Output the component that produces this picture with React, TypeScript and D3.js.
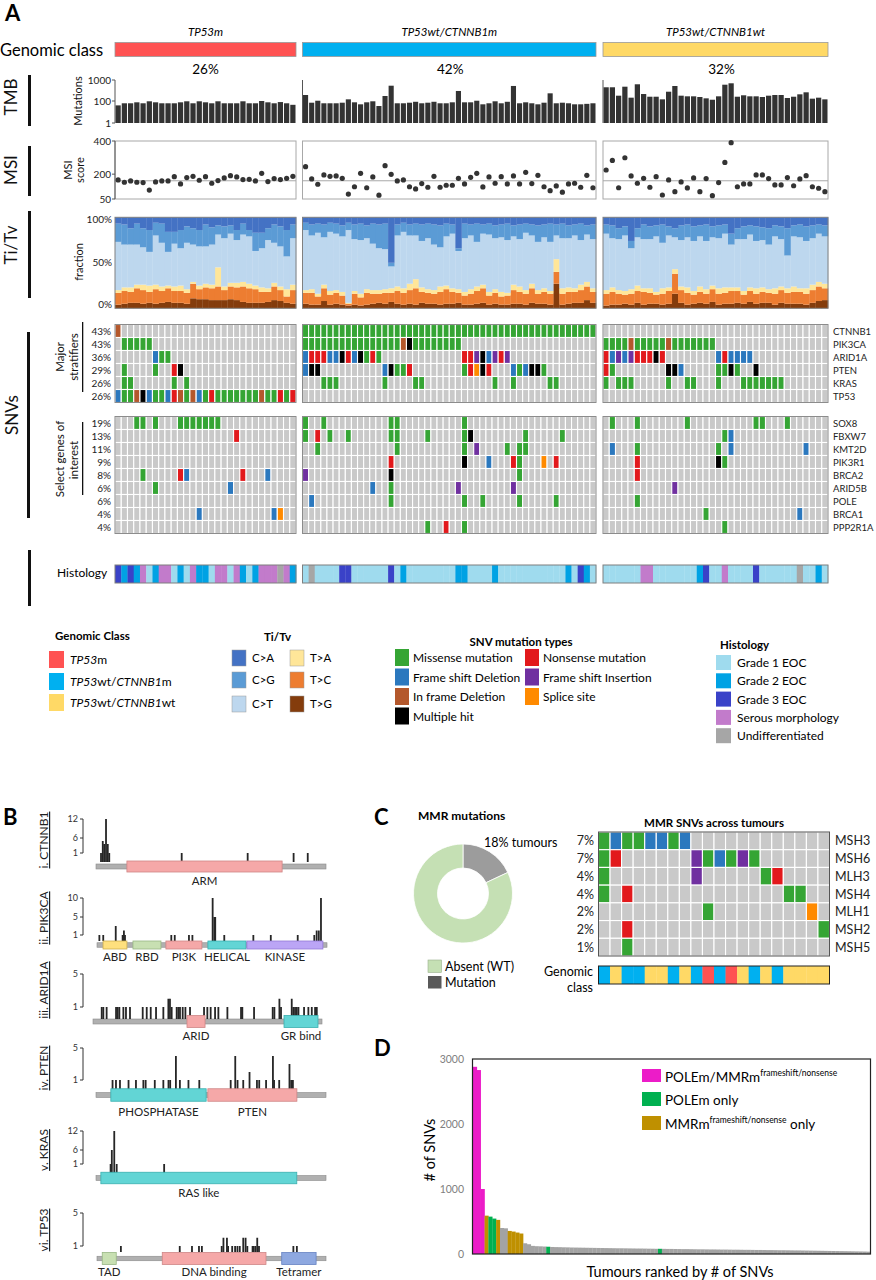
import { useEffect } from "react";
import * as d3 from "d3";

const FONT = "Lato, 'Noto Sans', 'DejaVu Sans', sans-serif";

// ---------------- Panel A data ----------------
const classLabelParts: [string, boolean][][] = [
  [["TP53", true], ["m", false]],
  [["TP53", true], ["wt/", false], ["CTNNB1", true], ["m", false]],
  [["TP53", true], ["wt/", false], ["CTNNB1", true], ["wt", false]],
];
const classShares = ["26%", "42%", "32%"];
const classColors = ["#FF5252", "#00B0F0", "#FFD966"];

// tumour mutational burden (mutations per tumour)
const tmbTP53m = [40, 62, 62, 76, 62, 94, 76, 62, 62, 62, 76, 94, 62, 94, 76, 62, 94, 62, 62, 62, 94, 62, 62, 100, 76, 62, 80, 62, 45];
const tmbCTNNB1m = [193, 70, 103, 62, 62, 62, 70, 120, 76, 50, 76, 94, 35, 173, 535, 62, 62, 70, 85, 62, 70, 85, 62, 62, 76, 300, 76, 76, 103, 50, 62, 94, 62, 85, 520, 62, 76, 62, 50, 70, 232, 62, 70, 62, 50, 50, 55, 62];
const tmbCTNNB1wt = [450, 450, 179, 480, 144, 625, 215, 160, 160, 120, 277, 518, 179, 167, 167, 155, 134, 115, 167, 597, 697, 160, 187, 167, 167, 155, 179, 193, 193, 139, 160, 208, 259, 129, 144, 120];

// MSI score
const msiTP53m = [165, 151, 159, 151, 149, 104, 153, 159, 159, 185, 141, 179, 187, 163, 185, 145, 161, 177, 191, 183, 167, 169, 159, 205, 155, 173, 167, 175, 187];
const msiCTNNB1m = [245, 171, 139, 195, 187, 189, 175, 80, 124, 205, 118, 183, 73, 251, 199, 159, 165, 124, 111, 143, 121, 187, 121, 133, 133, 175, 141, 181, 205, 123, 183, 145, 185, 141, 189, 141, 211, 143, 193, 124, 100, 129, 91, 141, 145, 121, 193, 118];
const msiCTNNB1wt = [225, 283, 118, 299, 189, 145, 175, 121, 185, 74, 165, 94, 153, 117, 177, 94, 173, 70, 149, 271, 390, 124, 141, 141, 195, 195, 173, 135, 135, 179, 130, 171, 191, 124, 115, 94];
const msiCutoff = 160;

// Ti/Tv percentages per tumour: [C>A, C>G, T>A, T>C, T>G]; C>T is the rest
const titvTP53m = [
  [7, 20, 3, 13, 4], [8, 22, 4, 14, 5], [12, 18, 5, 12, 6], [7, 23, 4, 16, 6], [12, 21, 6, 15, 5],
  [14, 24, 7, 12, 6], [6, 14, 5, 16, 5], [7, 21, 5, 13, 6], [16, 22, 3, 15, 7], [16, 13, 5, 13, 6],
  [14, 20, 6, 13, 6], [10, 18, 4, 12, 5], [12, 18, 2, 16, 11], [14, 18, 4, 11, 10], [8, 24, 4, 13, 10],
  [11, 19, 4, 13, 9], [9, 10, 21, 15, 9], [10, 13, 4, 11, 9], [9, 9, 4, 14, 10], [14, 11, 5, 14, 9],
  [7, 12, 5, 17, 7], [14, 7, 5, 16, 6], [17, 20, 4, 15, 6], [17, 17, 5, 12, 6], [12, 13, 4, 11, 7],
  [8, 20, 4, 15, 9], [10, 22, 4, 12, 8], [14, 29, 8, 7, 6], [8, 15, 6, 15, 5],
];
const titvCTNNB1m = [
  [6, 8, 3, 12, 5], [8, 12, 4, 13, 4], [7, 10, 3, 9, 4], [8, 14, 4, 14, 8], [6, 10, 4, 11, 4],
  [7, 11, 3, 12, 5], [9, 12, 4, 10, 4], [6, 8, 1, 2, 3], [8, 16, 3, 12, 4], [7, 18, 4, 9, 3],
  [9, 14, 4, 13, 4], [7, 22, 4, 11, 5], [8, 26, 4, 10, 6], [7, 28, 4, 12, 5], [50, 4, 5, 10, 7],
  [8, 12, 5, 14, 5], [6, 10, 5, 13, 4], [8, 12, 7, 15, 5], [7, 13, 10, 18, 4], [8, 18, 5, 12, 6],
  [7, 16, 4, 12, 5], [8, 22, 4, 11, 5], [9, 24, 6, 14, 4], [7, 14, 4, 16, 5], [8, 10, 4, 13, 5],
  [34, 3, 4, 11, 6], [7, 16, 4, 10, 4], [8, 12, 5, 12, 4], [7, 20, 5, 14, 5], [8, 10, 4, 16, 6],
  [7, 12, 4, 10, 4], [9, 14, 4, 12, 5], [8, 14, 5, 9, 4], [7, 18, 3, 10, 4], [9, 12, 6, 15, 5],
  [8, 16, 6, 13, 5], [7, 10, 4, 12, 4], [8, 12, 5, 16, 6], [9, 18, 4, 11, 5], [8, 14, 4, 13, 5],
  [7, 20, 3, 12, 4], [8, 12, 14, 13, 27], [7, 16, 6, 12, 4], [9, 14, 5, 13, 5], [8, 12, 4, 12, 6],
  [7, 18, 6, 14, 6], [9, 10, 5, 15, 9], [8, 16, 4, 12, 6],
];
const titvCTNNB1wt = [
  [8, 10, 4, 13, 3], [9, 14, 5, 14, 4], [12, 12, 4, 12, 4], [10, 10, 4, 10, 5], [26, 8, 5, 12, 4],
  [12, 10, 6, 13, 6], [8, 16, 4, 14, 4], [10, 14, 5, 12, 5], [9, 12, 3, 10, 5], [8, 20, 6, 12, 4],
  [10, 10, 4, 14, 5], [12, 10, 5, 22, 16], [9, 16, 4, 14, 6], [8, 14, 6, 13, 4], [10, 16, 4, 10, 5],
  [9, 12, 6, 12, 6], [8, 18, 5, 11, 5], [10, 12, 4, 14, 7], [9, 14, 6, 12, 4], [8, 10, 6, 12, 5],
  [18, 12, 4, 14, 5], [12, 12, 4, 13, 6], [10, 14, 4, 10, 5], [9, 10, 4, 12, 7], [10, 16, 6, 11, 5],
  [11, 14, 5, 12, 6], [12, 18, 4, 11, 6], [9, 12, 6, 12, 4], [10, 14, 4, 14, 6], [12, 30, 5, 12, 5],
  [9, 12, 6, 13, 5], [8, 14, 4, 13, 5], [10, 16, 6, 12, 4], [9, 14, 6, 14, 6], [8, 10, 5, 16, 8],
  [9, 12, 5, 13, 9],
];
const titvKeys = ["C>A", "C>G", "C>T", "T>A", "T>C", "T>G"];
const titvColors: Record<string, string> = {
  "C>A": "#4472C4", "C>G": "#5B9BD5", "C>T": "#BDD7EE",
  "T>A": "#FFE699", "T>C": "#ED7D31", "T>G": "#843C0C",
};

// SNV oncoprint
const majorGenes = ["CTNNB1", "PIK3CA", "ARID1A", "PTEN", "KRAS", "TP53"];
const majorPct = ["43%", "43%", "36%", "29%", "26%", "26%"];
const selectGenes = ["SOX8", "FBXW7", "KMT2D", "PIK3R1", "BRCA2", "ARID5B", "POLE", "BRCA1", "PPP2R1A"];
const selectPct = ["19%", "13%", "11%", "9%", "8%", "6%", "6%", "4%", "4%"];
// "index[-index]code": M missense, F frameshift del, I in-frame del, X multiple, N nonsense, S frameshift ins, P splice
const snvTP53m = [
  "0I", "1-5M", "6F 7M 8M", "1M 6M 9N 10X", "1M 2M 9M 11M",
  "0F 1M 2M 3I 4X 5F 6M 7M 8F 9N 10I 11M 12I 13F 14M 15N 16-22M 23I 24M 25M 26N 27M 28N",
  "3M 4M 6M 10-16M", "19N", "", "", "4M 10N 11F 20N 24F", "6M 18F", "", "13F 25F 26P", "",
];
const snvCTNNB1m = [
  "0-47M", "0-15M 16I 17X 18-25M",
  "0F 1N 2N 3N 4F 5F 6X 7N 8F 9X 10M 11N 12M 26N 27N 28S 29X 30F 31S 32N 33S",
  "0F 1X 2X 13F 14X 15M 16M 17N 26M 27N 28P 29X 30N 34F 35M 36F 37X 38X 39M",
  "3-5M 13M 18M 19M 31M 34M 40M 41M", "",
  "0M 3M 14M 15M 26M", "0M 2N 4M 7M 14M 15M 20M 26M 27X 36M 42M",
  "2M 15M 26M 28S 33M 35M 36M", "14N 26X 30F 34N 35M 39P 41N", "0S 14X 35M",
  "11F 14M 25S 34S", "1F 14M 26M 29M 35M 41M", "", "20M 23N 26M",
];
const snvCTNNB1wt = [
  "", "0-3M 4I 5-9M 10I 11-17M",
  "0N 1F 2S 3F 4S 5N 6N 7N 8X 9N 18F 19N 20F 21F 22F 23F",
  "0N 1M 10X 11X 12F 18M 19M 20X 21M 24X",
  "0M 2-4M 10M 13M 14M 18M 22-28M", "",
  "1M 5M 13M 24M 25M 29M", "19M 20F", "1F 5M 18M 20F 32F", "5N 18X 19M", "5N",
  "11S", "5M", "16M 31F", "19M",
];
const snvTypes = [
  ["M", "Missense mutation"], ["F", "Frame shift Deletion"], ["I", "In frame Deletion"], ["X", "Multiple hit"],
  ["N", "Nonsense mutation"], ["S", "Frame shift Insertion"], ["P", "Splice site"],
];
const snvColors: Record<string, string> = {
  M: "#35A534", F: "#2B78BE", I: "#B4582C", X: "#000000", N: "#E2191C", S: "#7030A0", P: "#FF8A00",
};

// Histology: A grade 1, B grade 2, C grade 3, S serous, U undifferentiated (default A)
const histTP53m = "0C 1B 2C 3B 4S 5A 6B 7-8S 9A 10B 11A 12S 13-14B 15A 16-17S 18A 19S 20B 21A 22B 23-25S 26U 27S 28B";
const histCTNNB1m = "1U 6-7C 14C 16B 25-26B 31B 43B 45C 46B";
const histCTNNB1wt = "6-7S 15B 16C 19S 24C 31U 34B";
const histTypes = [["A", "Grade 1 EOC"], ["B", "Grade 2 EOC"], ["C", "Grade 3 EOC"], ["S", "Serous morphology"], ["U", "Undifferentiated"]];
const histColors: Record<string, string> = { A: "#9FDBEE", B: "#00A2E4", C: "#3A42C8", S: "#C27BCB", U: "#A6A6A6" };

// ---------------- Panel B data ----------------
const geneNames = ["i. CTNNB1", "ii. PIK3CA", "iii. ARID1A", "iv. PTEN", "v. KRAS", "vi. TP53"];
const proteinLengths = [781, 1068, 2285, 403, 189, 393];
const geneTicks = [[1, 6, 12], [1, 5, 10], [1, 5], [1, 5], [1, 6, 12], [1, 5]];
const ctnnb1Domains: [string, number, number][] = [["ARM", 105, 632]];
const pik3caDomains: [string, number, number][] = [["ABD", 28, 139], ["RBD", 167, 297], ["PI3K", 320, 487], ["HELICAL", 515, 692], ["KINASE", 696, 1049]];
const arid1aDomains: [string, number, number][] = [["ARID", 938, 1118], ["GR bind", 1906, 2245]];
const ptenDomains: [string, number, number][] = [["PHOSPHATASE", 26, 193], ["PTEN", 196, 352]];
const krasDomains: [string, number, number][] = [["RAS like", 4, 165]];
const tp53Domains: [string, number, number][] = [["TAD", 9, 33], ["DNA binding", 112, 290], ["Tetramer", 317, 376]];
const ctnnb1Muts = [[17, 1], [23, 5], [28, 4], [34, 12], [40, 4], [45, 1], [291, 1], [515, 1], [671, 1], [719, 1]];
const pik3caMuts = [[11, 1], [29, 1], [87, 3], [119, 1], [125, 2], [130, 1], [345, 1], [361, 1], [427, 1], [443, 1], [537, 10], [545, 5], [549, 5], [591, 1], [726, 1], [807, 1], [932, 1], [1009, 1], [1020, 2], [1030, 2], [1040, 10]];
const arid1aMuts = [[87, 1], [103, 1], [136, 1], [230, 1], [246, 1], [263, 1], [303, 1], [329, 1], [369, 1], [496, 1], [536, 1], [576, 1], [629, 1], [702, 1], [752, 2], [768, 2], [785, 1], [835, 1], [852, 1], [868, 1], [895, 1], [922, 1], [968, 1], [1108, 1], [1141, 1], [1174, 1], [1218, 1], [1251, 1], [1341, 1], [1477, 1], [1490, 1], [1607, 1], [1793, 1], [1810, 1], [1860, 2], [1876, 1], [1983, 2], [1999, 1], [2016, 1], [2033, 1], [2050, 1], [2106, 1], [2149, 1], [2183, 1], [2216, 1], [2233, 1]];
const ptenMuts = [[29, 1], [35, 1], [42, 1], [57, 1], [70, 1], [83, 1], [87, 1], [103, 1], [118, 1], [127, 1], [130, 1], [140, 4], [147, 1], [162, 1], [181, 1], [236, 1], [244, 4], [248, 1], [258, 1], [269, 2], [282, 1], [286, 1], [298, 1], [310, 4], [312, 1], [321, 1], [339, 3], [342, 1], [345, 1]];
const krasMuts = [[12, 1], [13, 6], [15, 12], [17, 1], [56, 1]];
const tp53Muts = [[41, 1], [142, 1], [163, 1], [175, 1], [180, 1], [214, 1], [217, 2], [223, 2], [225, 1], [232, 1], [237, 1], [241, 1], [245, 1], [251, 2], [255, 2], [258, 1], [267, 1], [269, 1], [272, 1], [275, 2], [278, 1], [337, 1], [343, 1]];
const geneDomains = [ctnnb1Domains, pik3caDomains, arid1aDomains, ptenDomains, krasDomains, tp53Domains];
const geneMuts = [ctnnb1Muts, pik3caMuts, arid1aMuts, ptenMuts, krasMuts, tp53Muts];
const domainColors: Record<string, [string, string]> = {
  ARM: ["#F5A8A8", "#CF8686"], ABD: ["#FFE07E", "#CDAE52"], RBD: ["#C8E0B2", "#98B784"],
  PI3K: ["#F5A8A8", "#CF8686"], HELICAL: ["#62D5D5", "#3AAFAF"], KINASE: ["#BBA5F5", "#9379D6"],
  ARID: ["#F5A8A8", "#CF8686"], "GR bind": ["#62D5D5", "#3AAFAF"], PHOSPHATASE: ["#62D5D5", "#3AAFAF"],
  PTEN: ["#F5A8A8", "#CF8686"], "RAS like": ["#62D5D5", "#3AAFAF"], TAD: ["#C8E0B2", "#98B784"],
  "DNA binding": ["#F5A8A8", "#CF8686"], Tetramer: ["#8EA8E0", "#6682C2"],
};

// ---------------- Panel C data ----------------
const mmrShare = [{ label: "Mutation", value: 18 }, { label: "Absent (WT)", value: 82 }];
const mmrGenes = ["MSH3", "MSH6", "MLH3", "MSH4", "MLH1", "MSH2", "MSH5"];
const mmrPct = ["7%", "7%", "4%", "4%", "2%", "2%", "1%"];
const mmrSnv = ["0M 1F 2M 3M 4F 5F 6M 7F", "0M 1N 8S 9M 10F 11M 12S 13M", "0M 8S 14M 15N", "0M 2N 16M 17M", "9M 18P", "2N 19M", "2M"];
const mmrClass = "BYBBYYBYBRBRYBYBYYYY";
const mmrClassColors: Record<string, string> = { R: "#FF5252", B: "#00B0F0", Y: "#FFD966" };

// ---------------- Panel D data ----------------
const snvCounts = [
  2880, 2830, 1000, 590, 575, 545, 525, 400, 395, 355,
  345, 330, 315, 165, 150, 125, 120, 118, 115, 112,
  108, 106, 105, 103, 102, 100, 99, 98, 97, 96,
  95, 94, 93, 92, 91, 90, 89, 88, 88, 87,
  86, 85, 84, 84, 83, 82, 81, 80, 80, 79,
  78, 78, 77, 76, 75, 75, 74, 73, 72, 72,
  71, 70, 70, 69, 68, 68, 67, 66, 66, 65,
  64, 64, 63, 62, 62, 61, 60, 60, 59, 58,
  58, 57, 56, 55, 55, 54, 53, 52, 51, 50,
  49, 48, 47, 46, 45, 44, 43, 42, 41, 40,
  39, 38, 36,
];
// P: POLEm/MMRm, E: POLEm only, G: MMRm only
const snvCountGroups = "0-2P 3G 4-5E 6G 9-12G 19E 48E";
const snvGroupColors: Record<string, string> = { P: "#EC1CC8", E: "#00B050", G: "#BF9000", ".": "#A3A3A3" };
const snvTicks = [0, 1000, 2000, 3000];

// ---------------- helpers ----------------
function expand(spec: string, n: number, fill = "."): string[] {
  const out = new Array(n).fill(fill);
  spec.split(" ").filter(Boolean).forEach((tok) => {
    const code = tok.slice(-1);
    const [a, b] = tok.slice(0, -1).split("-").map(Number);
    for (let i = a; i <= (isNaN(b) || b === undefined ? a : b); i++) if (i < n) out[i] = code;
  });
  return out;
}

function Rot({ x, y, size, children, weight = 400 }: any) {
  return (
    <text transform={`translate(${x},${y}) rotate(-90)`} textAnchor="middle" fontSize={size} fontWeight={weight} fill="#111">
      {children}
    </text>
  );
}

const spans: [number, number][] = [[115, 296], [302.5, 596], [603, 828]];
const cellGray = "#C9C9C9";

function PanelA() {
  const tmbs = [tmbTP53m, tmbCTNNB1m, tmbCTNNB1wt];
  const msis = [msiTP53m, msiCTNNB1m, msiCTNNB1wt];
  const titvs = [titvTP53m, titvCTNNB1m, titvCTNNB1wt];
  const snvs = [snvTP53m, snvCTNNB1m, snvCTNNB1wt];
  const hists = [histTP53m, histCTNNB1m, histCTNNB1wt];
  const bands = tmbs.map((v, gi) => d3.scaleBand<number>().domain(d3.range(v.length)).range(spans[gi]));
  const tmbY = d3.scaleLinear().domain([0, 2, 3]).range([123, 101, 80]);
  const msiY = d3.scaleLinear().domain([50, 400]).range([199, 141]);
  const titvY = d3.scaleLinear().domain([0, 100]).range([308.3, 217.3]);
  const stackOrder = ["T>G", "T>C", "T>A", "C>T", "C>G", "C>A"];
  const stack = d3.stack<any>().keys(stackOrder);
  const genes = [...majorGenes, ...selectGenes];
  const pcts = [...majorPct, ...selectPct];
  const rowH = 13;
  const rowY = (r: number) => (r < 6 ? 324.5 + r * rowH : 416.5 + (r - 6) * rowH);

  return (
    <g>
      <text x={5} y={21} fontSize={22} fontWeight={700}>A</text>
      <text x={0} y={56} fontSize={16.5}>Genomic class</text>
      {spans.map(([a, b], gi) => (
        <g key={"gc" + gi}>
          <text x={(a + b) / 2} y={36} fontSize={11.5} textAnchor="middle" fontStyle="italic">
            {classLabelParts[gi].map(([t], k) => <tspan key={k}>{t}</tspan>)}
          </text>
          <rect x={a} y={42.5} width={b - a} height={14} fill={classColors[gi]} stroke="#9a9a9a" strokeWidth={0.8} />
          <text x={(a + b) / 2 + [0, 1, 6][gi]} y={74} fontSize={13.5} textAnchor="middle">{classShares[gi]}</text>
        </g>
      ))}

      {/* side labels */}
      <Rot x={17} y={97} size={17}>TMB</Rot>
      <rect x={28} y={75} width={3} height={51} fill="#111" />
      <Rot x={17} y={170} size={17}>MSI</Rot>
      <rect x={28} y={146} width={3} height={50} fill="#111" />
      <Rot x={17} y={245} size={17}>Ti/Tv</Rot>
      <rect x={28} y={211} width={3} height={87} fill="#111" />
      <Rot x={18} y={415} size={17}>SNVs</Rot>
      <rect x={27} y={332} width={3} height={186} fill="#111" />
      <rect x={28} y={550} width={3} height={56} fill="#111" />

      <Rot x={82} y={101} size={11}>Mutations</Rot>
      <Rot x={72} y={170} size={11}>MSI</Rot>
      <Rot x={84} y={170} size={11}>score</Rot>
      <Rot x={83} y={262} size={11}>fraction</Rot>
      <Rot x={64} y={357} size={11.5}>Major</Rot>
      <Rot x={78} y={357} size={11.5}>stratifiers</Rot>
      <rect x={82} y={322} width={1.3} height={70} fill="#111" />
      <Rot x={64} y={459} size={11.5}>Select genes of</Rot>
      <Rot x={78} y={460} size={11.5}>interest</Rot>
      <rect x={82} y={422} width={1.3} height={73} fill="#111" />

      {/* TMB */}
      {tmbs.map((vals, gi) => (
        <g key={"tmb" + gi}>
          {vals.map((v, i) => (
            <rect key={i} x={bands[gi](i)! + 0.5} width={bands[gi].bandwidth() - 1} y={tmbY(Math.log10(v))}
              height={123 - tmbY(Math.log10(v))} fill="#333333" />
          ))}
          <line x1={spans[gi][0]} x2={spans[gi][0]} y1={80} y2={123} stroke="#555" strokeWidth={1} />
        </g>
      ))}
      {[1, 100, 1000].map((t) => (
        <g key={"tt" + t}>
          <line x1={112} x2={115} y1={tmbY(Math.log10(t))} y2={tmbY(Math.log10(t))} stroke="#555" />
          <text x={111} y={tmbY(Math.log10(t)) + 3.5} fontSize={10} textAnchor="end" fill="#222">{t}</text>
        </g>
      ))}

      {/* MSI */}
      {msis.map((vals, gi) => {
        const bw = bands[gi].bandwidth();
        return (
          <g key={"msi" + gi}>
            <rect x={spans[gi][0]} y={141} width={spans[gi][1] - spans[gi][0]} height={58} fill="none" stroke="#A8A8A8" />
            <line x1={spans[gi][0]} x2={spans[gi][1]} y1={msiY(msiCutoff)} y2={msiY(msiCutoff)} stroke="#A8A8A8" />
            {vals.map((v, i) => (
              <circle key={i} cx={bands[gi](i)! + bw / 2} cy={msiY(v)} r={2.6} fill="#333" />
            ))}
          </g>
        );
      })}
      <line x1={115} x2={115} y1={141} y2={199} stroke="#555" />
      {[400, 200, 50].map((t) => (
        <g key={"mt" + t}>
          <line x1={112} x2={115} y1={msiY(t)} y2={msiY(t)} stroke="#555" />
          <text x={111} y={msiY(t) + 3.5} fontSize={10} textAnchor="end" fill="#222">{t}</text>
        </g>
      ))}

      {/* Ti/Tv */}
      {titvs.map((rows, gi) => {
        const objs = rows.map(([ca, cg, ta, tc, tg]) => ({
          "C>A": ca, "C>G": cg, "T>A": ta, "T>C": tc, "T>G": tg, "C>T": 100 - ca - cg - ta - tc - tg,
        }));
        const series = stack(objs);
        const band = bands[gi];
        return (
          <g key={"tv" + gi}>
            {series.map((s) =>
              s.map((d, i) => (
                <rect key={s.key + i} x={band(i)!} width={band.bandwidth() + 0.3} y={titvY(d[1])}
                  height={titvY(d[0]) - titvY(d[1])} fill={titvColors[s.key]} />
              ))
            )}
            <rect x={spans[gi][0]} y={217.3} width={spans[gi][1] - spans[gi][0]} height={91} fill="none" stroke="#808080" />
          </g>
        );
      })}
      {[100, 50, 0].map((t) => (
        <text key={"vt" + t} x={112} y={titvY(t) + (t === 100 ? 6 : t === 0 ? 0 : 3.5)} fontSize={10} textAnchor="end" fill="#222">{t}%</text>
      ))}

      {/* SNV oncoprint */}
      {snvs.map((rows, gi) => {
        const band = bands[gi];
        const n = band.domain().length;
        const [a, b] = spans[gi];
        return (
          <g key={"snv" + gi}>
            {genes.map((g, r) =>
              expand(rows[r], n).map((c, i) => (
                <rect key={g + i} x={band(i)!} y={rowY(r)} width={band.bandwidth()} height={rowH}
                  fill={c === "." ? cellGray : snvColors[c]} stroke="#fff" strokeWidth={1.1} />
              ))
            )}
            <rect x={a} y={324.5} width={b - a} height={6 * rowH} fill="none" stroke="#8C8C8C" />
            <rect x={a} y={416.5} width={b - a} height={9 * rowH} fill="none" stroke="#8C8C8C" />
          </g>
        );
      })}
      {genes.map((g, r) => (
        <g key={"lab" + g}>
          <text x={111} y={rowY(r) + rowH / 2 + 3.5} fontSize={10} textAnchor="end" fill="#222">{pcts[r]}</text>
          <text x={833} y={rowY(r) + rowH / 2 + 3.5} fontSize={9.5} fill="#222">{g}</text>
        </g>
      ))}

      {/* Histology */}
      <text x={57} y={577} fontSize={12}>Histology</text>
      {hists.map((spec, gi) => {
        const band = bands[gi];
        const cells = expand(spec, band.domain().length, "A");
        return (
          <g key={"h" + gi}>
            {cells.map((c, i) => (
              <rect key={i} x={band(i)!} y={565} width={band.bandwidth() + 0.3} height={18} fill={histColors[c]} />
            ))}
            <rect x={spans[gi][0]} y={565} width={spans[gi][1] - spans[gi][0]} height={18} fill="none" stroke="#7F7F7F" />
          </g>
        );
      })}

      {/* Legends */}
      <text x={55} y={640} fontSize={11.5} fontWeight={700}>Genomic Class</text>
      {classLabelParts.map((parts, k) => (
        <g key={"lg" + k}>
          <rect x={49} y={[651, 673, 694][k]} width={15} height={17} fill={classColors[k]} />
          <text x={70} y={[651, 673, 694][k] + 12.5} fontSize={12}>
            {parts.map(([t, it], j) => <tspan key={j} fontStyle={it ? "italic" : "normal"}>{t}</tspan>)}
          </text>
        </g>
      ))}

      <text x={264} y={641} fontSize={11.5} fontWeight={700}>Ti/Tv</text>
      {titvKeys.map((k, i) => {
        const col = i < 3 ? 0 : 1;
        const row = i % 3;
        const y = [650, 672, 696][row];
        const x = col === 0 ? 232 : 290;
        return (
          <g key={"lt" + k}>
            <rect x={x} y={y} width={14} height={16} fill={titvColors[k]} stroke="#9a9a9a" strokeWidth={0.5} />
            <text x={x + 20} y={y + 12} fontSize={11.5}>{k}</text>
          </g>
        );
      })}

      <text x={521} y={646} fontSize={11.5} fontWeight={700} textAnchor="middle">SNV mutation types</text>
      {snvTypes.map(([c, label], i) => {
        const col = i < 4 ? 0 : 1;
        const row = col === 0 ? i : i - 4;
        const y = 649 + row * 19.5;
        const x = col === 0 ? 395 : 525;
        return (
          <g key={"ls" + c}>
            <rect x={x} y={y} width={14} height={17} fill={snvColors[c]} />
            <text x={x + 18} y={y + 13} fontSize={12}>{label}</text>
          </g>
        );
      })}

      <text x={720} y={649} fontSize={11.5} fontWeight={700}>Histology</text>
      {histTypes.map(([c, label], i) => (
        <g key={"lh" + c}>
          <rect x={716} y={655 + i * 18.3} width={15} height={15} fill={histColors[c]} />
          <text x={737} y={655 + i * 18.3 + 12} fontSize={12}>{label}</text>
        </g>
      ))}
    </g>
  );
}

// layout for panel B tracks
const trackLayout = [
  { labelY: 840, barY: 866.5, barH: 5, domH: 11, base: 862, tickY: [853, 838, 819], textY: 885, x0: 96, x1: 326 },
  { labelY: 918, barY: 945, barH: 4.5, domH: 8, base: 941, tickY: [935, 917, 898], textY: 961, x0: 97, x1: 327 },
  { labelY: 990, barY: 1021.5, barH: 5, domH: 12, base: 1019, tickY: [1007, 974], textY: 1040, x0: 93, x1: 322 },
  { labelY: 1068, barY: 1095, barH: 5, domH: 12.5, base: 1089, tickY: [1080, 1048], textY: 1116, x0: 96, x1: 326 },
  { labelY: 1150, barY: 1178, barH: 5, domH: 11.5, base: 1173, tickY: [1164, 1150, 1131], textY: 1197, x0: 96, x1: 326 },
  { labelY: 1230, barY: 1258.5, barH: 4.5, domH: 12, base: 1252, tickY: [1246, 1213], textY: 1276, x0: 97, x1: 326 },
];

function PanelB() {
  return (
    <g>
      <text x={3} y={825} fontSize={22} fontWeight={700}>B</text>
      {geneNames.map((name, gi) => {
        const L = trackLayout[gi];
        const x = d3.scaleLinear().domain([0, proteinLengths[gi]]).range([L.x0, L.x1]);
        const y = d3.scaleLinear().domain([0, ...geneTicks[gi]]).range([L.base, ...L.tickY]);
        const ticks = geneTicks[gi];
        return (
          <g key={name}>
            <text transform={`translate(48,${L.labelY}) rotate(-90)`} textAnchor="middle" fontSize={12}
              textDecoration="underline" fill="#222">{name}</text>
            <line x1={83} x2={83} y1={y(ticks[0])} y2={y(ticks[ticks.length - 1])} stroke="#333" />
            {ticks.map((t) => (
              <g key={t}>
                <line x1={80} x2={83} y1={y(t)} y2={y(t)} stroke="#333" />
                <text x={78} y={y(t) + 3} fontSize={9} textAnchor="end" fill="#333">{t}</text>
              </g>
            ))}
            <rect x={L.x0} y={L.barY - L.barH / 2} width={L.x1 - L.x0} height={L.barH} fill="#B0B0B0" stroke="#8A8A8A" strokeWidth={0.6} />
            {geneMuts[gi].map(([p, c], k) => (
              <rect key={k} x={x(p) - 0.9} width={1.8} y={y(c)} height={L.base - y(c)} fill="#262626" />
            ))}
            {geneDomains[gi].map(([dn, s, e]) => (
              <g key={dn}>
                <rect x={x(s)} y={L.barY - L.domH / 2} width={x(e) - x(s)} height={L.domH}
                  fill={domainColors[dn][0]} stroke={domainColors[dn][1]} strokeWidth={0.8} />
                <text x={(x(s) + x(e)) / 2} y={L.textY} fontSize={11.5} textAnchor="middle" fill="#222">{dn}</text>
              </g>
            ))}
          </g>
        );
      })}
    </g>
  );
}

function PanelC() {
  const pie = d3.pie<any>().sort(null).value((d) => d.value);
  const arc = d3.arc<any>().innerRadius(25.5).outerRadius(49.5);
  const arcs = pie(mmrShare);
  const cx = 463, cy = 893.5;
  const nCol = mmrClass.length;
  const xb = d3.scaleBand<number>().domain(d3.range(nCol)).range([598.5, 829.5]);
  const yb = d3.scaleBand<number>().domain(d3.range(mmrGenes.length)).range([832, 956]);
  return (
    <g>
      <text x={374} y={825} fontSize={22} fontWeight={700}>C</text>
      <text x={418} y={820} fontSize={12} fontWeight={700}>MMR mutations</text>
      <g transform={`translate(${cx},${cy})`}>
        {arcs.map((a, i) => (
          <path key={i} d={arc(a)!} fill={i === 0 ? "#9C9C9C" : "#C5E0B4"} stroke="#fff" strokeWidth={0.8} />
        ))}
      </g>
      <text x={484} y={847} fontSize={12.5}>18% tumours</text>
      <rect x={428} y={960} width={13.5} height={12.5} fill="#C5E0B4" stroke="#9AAF8C" strokeWidth={0.6} />
      <text x={445} y={971} fontSize={12.5}>Absent (WT)</text>
      <rect x={428} y={976} width={13.5} height={12.5} fill="#595959" />
      <text x={445} y={987} fontSize={12.5}>Mutation</text>

      <text x={714} y={827} fontSize={11.5} fontWeight={700} textAnchor="middle">MMR SNVs across tumours</text>
      {mmrGenes.map((g, r) => (
        <g key={g}>
          {expand(mmrSnv[r], nCol).map((c, i) => (
            <rect key={i} x={xb(i)!} y={yb(r)!} width={xb.bandwidth()} height={yb.bandwidth()}
              fill={c === "." ? cellGray : snvColors[c]} stroke="#fff" strokeWidth={1.1} />
          ))}
          <text x={594} y={yb(r)! + yb.bandwidth() / 2 + 4.5} fontSize={12.5} textAnchor="end" fill="#222">{mmrPct[r]}</text>
          <text x={835} y={yb(r)! + yb.bandwidth() / 2 + 4.5} fontSize={12.5} fill="#222">{g}</text>
        </g>
      ))}
      <rect x={598.5} y={832} width={231} height={124} fill="none" stroke="#555" strokeWidth={1} />
      {mmrClass.split("").map((c, i) => (
        <rect key={"mc" + i} x={xb(i)!} y={966} width={xb.bandwidth() + 0.3} height={18} fill={mmrClassColors[c]} />
      ))}
      <rect x={598.5} y={966} width={231} height={18} fill="none" stroke="#222" strokeWidth={1} />
      <text x={593} y={976} fontSize={12.5} textAnchor="end">Genomic</text>
      <text x={593} y={992} fontSize={12.5} textAnchor="end">class</text>
    </g>
  );
}

function PanelD() {
  const x = d3.scaleBand<number>().domain(d3.range(snvCounts.length)).range([473, 870]);
  const y = d3.scaleLinear().domain([0, 3000]).range([1254, 1059]);
  const groups = expand(snvCountGroups, snvCounts.length);
  return (
    <g>
      <text x={374} y={1056} fontSize={22} fontWeight={700}>D</text>
      {snvCounts.map((v, i) => (
        <rect key={i} x={x(i)!} width={x.bandwidth() + 0.25} y={y(v)} height={y(0) - y(v)} fill={snvGroupColors[groups[i]]} />
      ))}
      <rect x={472.5} y={1059} width={398} height={195} fill="none" stroke="#222" strokeWidth={1.2} />
      {snvTicks.map((t) => (
        <text key={t} x={464} y={y(t) + 4} fontSize={10.5} textAnchor="end" fill="#808080">{t}</text>
      ))}
      <text transform={`translate(435,1150) rotate(-90)`} textAnchor="middle" fontSize={14.5}># of SNVs</text>
      <text x={680} y={1277} fontSize={14.5} textAnchor="middle">Tumours ranked by # of SNVs</text>

      <rect x={642} y={1069} width={19} height={13} fill="#EC1CC8" />
      <text x={665} y={1082} fontSize={13.5}>POLEm/MMRm<tspan dy={-6} fontSize={8.5}>frameshift/nonsense</tspan></text>
      <rect x={642} y={1092} width={19} height={14} fill="#00B050" />
      <text x={665} y={1105} fontSize={13.5}>POLEm only</text>
      <rect x={642} y={1116} width={19} height={14} fill="#BF9000" />
      <text x={665} y={1129} fontSize={13.5}>MMRm<tspan dy={-6} fontSize={8.5}>frameshift/nonsense</tspan><tspan dy={6}> only</tspan></text>
    </g>
  );
}

export default function App() {
  useEffect(() => {
    document.body.style.margin = "0";
  }, []);
  return (
    <svg width={876} height={1280} viewBox="0 0 876 1280" style={{ display: "block", background: "#fff", fontFamily: FONT }}>
      <PanelA />
      <PanelB />
      <PanelC />
      <PanelD />
    </svg>
  );
}
